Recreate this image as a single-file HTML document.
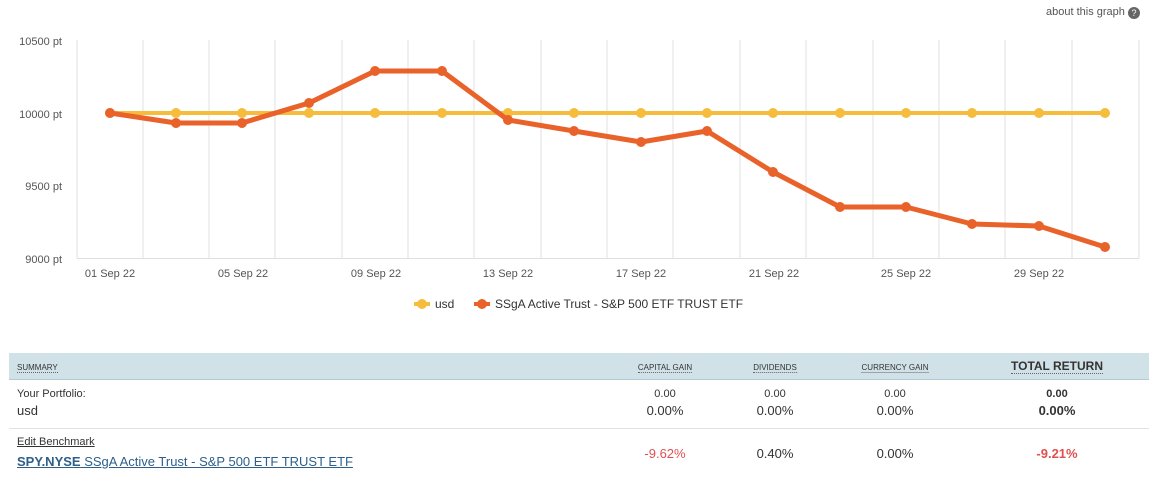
<!DOCTYPE html>
<html><head><style>
body{margin:0;width:1155px;height:493px;background:#fff;font-family:"Liberation Sans",sans-serif;position:relative;overflow:hidden;color:#333}
.a{position:absolute;white-space:nowrap}
.h{font-size:8px;color:#333;border-bottom:1px dotted #666;text-transform:uppercase}
.c{text-align:center;transform:translateX(-50%)}
</style></head><body>
<div class="a" style="left:1046px;top:6px;font-size:11px;color:#555">about this graph <span style="display:inline-block;width:12px;height:12px;border-radius:6px;background:#666;color:#fff;font-size:9px;text-align:center;line-height:12px;vertical-align:-1px">?</span></div>
<svg class="a" style="left:0;top:0" width="1155" height="320" font-family="Liberation Sans" font-size="11" fill="#555">
<g stroke="#e0e0e0" stroke-width="1">
<line x1="77" y1="40" x2="77" y2="258"/><line x1="143" y1="40" x2="143" y2="258"/><line x1="209" y1="40" x2="209" y2="258"/><line x1="275" y1="40" x2="275" y2="258"/><line x1="342" y1="40" x2="342" y2="258"/><line x1="408" y1="40" x2="408" y2="258"/><line x1="474" y1="40" x2="474" y2="258"/><line x1="541" y1="40" x2="541" y2="258"/><line x1="607" y1="40" x2="607" y2="258"/><line x1="673" y1="40" x2="673" y2="258"/><line x1="740" y1="40" x2="740" y2="258"/><line x1="806" y1="40" x2="806" y2="258"/><line x1="873" y1="40" x2="873" y2="258"/><line x1="939" y1="40" x2="939" y2="258"/><line x1="1005" y1="40" x2="1005" y2="258"/><line x1="1072" y1="40" x2="1072" y2="258"/><line x1="1139" y1="40" x2="1139" y2="258"/>
<line x1="77" y1="258.5" x2="1139" y2="258.5"/>
</g>
<g text-anchor="end"><text x="62" y="45">10500 pt</text><text x="62" y="118">10000 pt</text><text x="62" y="190">9500 pt</text><text x="62" y="263">9000 pt</text></g>
<g text-anchor="middle"><text x="110" y="277">01 Sep 22</text><text x="243" y="277">05 Sep 22</text><text x="376" y="277">09 Sep 22</text><text x="508" y="277">13 Sep 22</text><text x="641" y="277">17 Sep 22</text><text x="774" y="277">21 Sep 22</text><text x="906" y="277">25 Sep 22</text><text x="1039" y="277">29 Sep 22</text></g>
<polyline fill="none" stroke="#f6bd3c" stroke-width="4" points="110,113 1105,113"/>
<g fill="#f6bd3c"><circle cx="110" cy="113" r="5"/><circle cx="176" cy="113" r="5"/><circle cx="242" cy="113" r="5"/><circle cx="309" cy="113" r="5"/><circle cx="375" cy="113" r="5"/><circle cx="442" cy="113" r="5"/><circle cx="508" cy="113" r="5"/><circle cx="574" cy="113" r="5"/><circle cx="641" cy="113" r="5"/><circle cx="707" cy="113" r="5"/><circle cx="773" cy="113" r="5"/><circle cx="840" cy="113" r="5"/><circle cx="906" cy="113" r="5"/><circle cx="972" cy="113" r="5"/><circle cx="1039" cy="113" r="5"/><circle cx="1105" cy="113" r="5"/></g>
<polyline fill="none" stroke="#e8622a" stroke-width="5" stroke-linejoin="round" points="110,113 176,123 242,123 309,103 375,71 442,71 508,120 574,131 641,142 707,131 773,172 840,207 906,207 972,224 1039,226 1105,247"/>
<g fill="#e8622a"><circle cx="110" cy="113" r="5"/><circle cx="176" cy="123" r="5"/><circle cx="242" cy="123" r="5"/><circle cx="309" cy="103" r="5"/><circle cx="375" cy="71" r="5"/><circle cx="442" cy="71" r="5"/><circle cx="508" cy="120" r="5"/><circle cx="574" cy="131" r="5"/><circle cx="641" cy="142" r="5"/><circle cx="707" cy="131" r="5"/><circle cx="773" cy="172" r="5"/><circle cx="840" cy="207" r="5"/><circle cx="906" cy="207" r="5"/><circle cx="972" cy="224" r="5"/><circle cx="1039" cy="226" r="5"/><circle cx="1105" cy="247" r="5"/></g>
<line x1="414" y1="304" x2="430" y2="304" stroke="#f6bd3c" stroke-width="4"/><circle cx="422" cy="304" r="5" fill="#f6bd3c"/>
<text x="435" y="308" fill="#333" font-size="12">usd</text>
<line x1="474" y1="304" x2="490" y2="304" stroke="#e8622a" stroke-width="4"/><circle cx="482" cy="304" r="5" fill="#e8622a"/>
<text x="495" y="308" fill="#333" font-size="12">SSgA Active Trust - S&amp;P 500 ETF TRUST ETF</text>
</svg>
<div class="a" style="left:9px;top:353px;width:1140px;height:26px;background:#d0e2e8;border-bottom:1px solid #b5cbd3"></div>
<div class="a h" style="left:17px;top:363px">Summary</div>
<div class="a h c" style="left:665px;top:363px">Capital gain</div>
<div class="a h c" style="left:775px;top:363px">Dividends</div>
<div class="a h c" style="left:895px;top:363px">Currency gain</div>
<div class="a c" style="left:1057px;top:359px;font-size:12px;font-weight:bold;color:#333;border-bottom:1px dotted #666">TOTAL RETURN</div>
<div class="a" style="left:17px;top:388px;font-size:11px">Your Portfolio:</div>
<div class="a" style="left:17px;top:403px;font-size:13px">usd</div>
<div class="a c" style="left:665px;top:388px;font-size:11px">0.00</div>
<div class="a c" style="left:775px;top:388px;font-size:11px">0.00</div>
<div class="a c" style="left:895px;top:388px;font-size:11px">0.00</div>
<div class="a c" style="left:1057px;top:388px;font-size:11px;font-weight:bold">0.00</div>
<div class="a c" style="left:665px;top:403px;font-size:13px">0.00%</div>
<div class="a c" style="left:775px;top:403px;font-size:13px">0.00%</div>
<div class="a c" style="left:895px;top:403px;font-size:13px">0.00%</div>
<div class="a c" style="left:1057px;top:403px;font-size:13px;font-weight:bold">0.00%</div>
<div class="a" style="left:9px;top:428px;width:1140px;height:1px;background:#dde3e6"></div>
<div class="a" style="left:17px;top:436px;font-size:11px;text-decoration:underline">Edit Benchmark</div>
<div class="a" style="left:17px;top:454px;font-size:13px;color:#2d5f8a;text-decoration:underline"><b>SPY.NYSE</b> SSgA Active Trust - S&amp;P 500 ETF TRUST ETF</div>
<div class="a c" style="left:665px;top:446px;font-size:13px;color:#e05050">-9.62%</div>
<div class="a c" style="left:775px;top:446px;font-size:13px">0.40%</div>
<div class="a c" style="left:895px;top:446px;font-size:13px">0.00%</div>
<div class="a c" style="left:1057px;top:446px;font-size:13px;font-weight:bold;color:#e05050">-9.21%</div>
</body></html>
